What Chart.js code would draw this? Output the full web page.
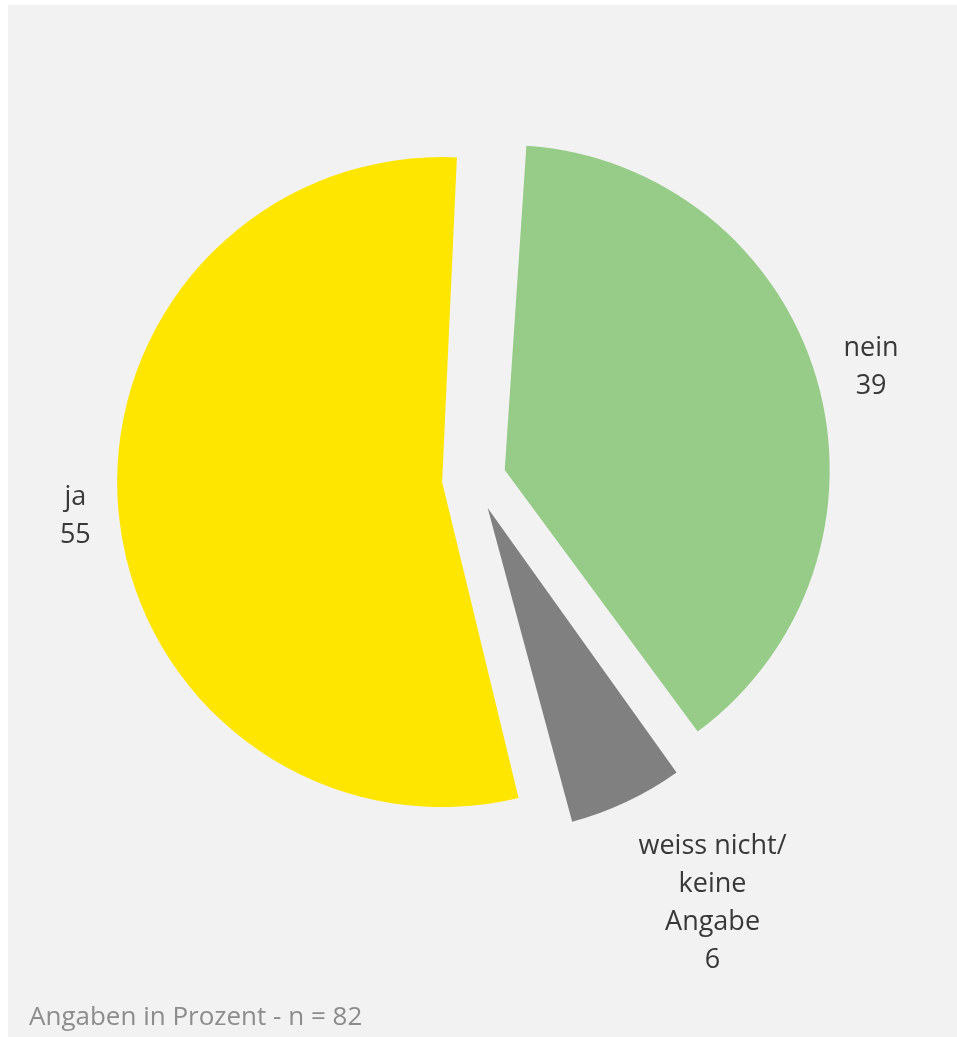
<!DOCTYPE html>
<html>
<head>
<meta charset="utf-8">
<script src="https://cdn.jsdelivr.net/npm/chart.js@4"></script>
<style>
  html, body { margin: 0; padding: 0; background: #ffffff; }
  #panel { position: absolute; left: 8px; top: 5px; width: 949px; height: 1032px; background: #f2f2f2; }
  #note { position: absolute; left: 21px; top: 992px; font: 26px "Open Sans", sans-serif; color: #8c8c8c; }
</style>
</head>
<body>
<div id="panel">
  <canvas id="pieChart" width="949" height="1032"></canvas>
  <div id="note">Angaben in Prozent - n = 82</div>
</div>
<script>
// answers, clockwise from the top
const categories = [['nein'], ['weiss nicht/', 'keine', 'Angabe'], ['ja']];
const shares = [39, 6, 55];
const colors = ['#96cc88', '#808080', '#ffe600'];

const pieRadius = 325;
// how far each slice is pulled out (chart.js moves arcs by offset / 4)
const explode = 32;

// chart.js also grows an offset arc by offset/4 * (1 - sin(angle)); undo that
// so every slice keeps the same radius
const keepRadius = {
  id: 'keepRadius',
  afterDatasetUpdate(chart) {
    chart.getDatasetMeta(0).data.forEach(arc => {
      const circ = arc.endAngle - arc.startAngle;
      arc.outerRadius = pieRadius - explode * (1 - Math.sin(Math.min(Math.PI, circ)));
    });
  }
};

// labels outside the slices: name lines plus value
const outsideLabels = {
  id: 'outsideLabels',
  afterDatasetsDraw(chart) {
    const ctx = chart.ctx;
    const meta = chart.getDatasetMeta(0);
    const lineH = 38;
    const gap = 28;
    ctx.save();
    ctx.font = '27px "Open Sans", sans-serif';
    ctx.fillStyle = '#383838';
    ctx.textAlign = 'center';
    ctx.textBaseline = 'middle';
    meta.data.forEach((arc, i) => {
      const p = arc.getProps(['x', 'y', 'startAngle', 'endAngle']);
      const mid = (p.startAngle + p.endAngle) / 2;
      const sx = Math.cos(mid), sy = Math.sin(mid);
      const d = pieRadius + explode + gap;
      const ax = p.x + sx * d, ay = p.y + sy * d;
      const lines = categories[i].concat(String(shares[i]));
      const w = Math.max(...lines.map(t => ctx.measureText(t).width));
      const h = lines.length * lineH;
      const kx = Math.max(-1, Math.min(1, sx * Math.abs(sx) / 0.18));
      const ky = Math.max(-1, Math.min(1, sy * Math.abs(sy) / 0.82));
      const cx = ax + (w / 2) * kx;
      const cy = ay + (h / 2) * ky;
      lines.forEach((t, k) => {
        ctx.fillText(t, cx, cy + (k - (lines.length - 1) / 2) * lineH);
      });
    });
    ctx.restore();
  }
};

new Chart(document.getElementById('pieChart').getContext('2d'), {
  type: 'pie',
  data: {
    labels: categories.map(c => c.join(' ')),
    datasets: [{
      data: shares,
      backgroundColor: colors,
      borderWidth: 0,
      offset: explode * 4
    }]
  },
  options: {
    responsive: false,
    animation: false,
    devicePixelRatio: 1,
    rotation: 3.5,
    radius: pieRadius,
    layout: { padding: { left: 0, right: 17, top: 0, bottom: 84 } },
    plugins: {
      legend: { display: false },
      tooltip: { enabled: false }
    }
  },
  plugins: [keepRadius, outsideLabels]
});
</script>
</body>
</html>
